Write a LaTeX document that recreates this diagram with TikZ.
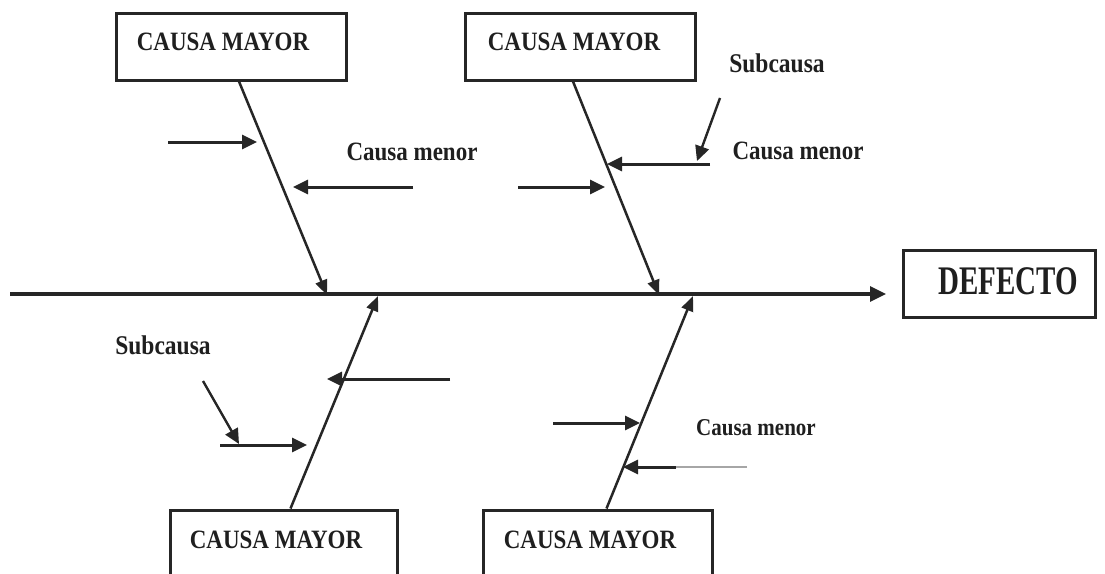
\documentclass[tikz,border=0pt]{standalone}
\usepackage{graphicx}
\usepackage{fontspec}
\setmainfont{Liberation Serif}
\usetikzlibrary{arrows.meta}
% slightly tall lettering
\newcommand{\tallbf}[2][1.15]{\scalebox{1}[#1]{#2}}
\begin{document}
\begin{tikzpicture}[x=1pt,y=-1pt,
  majorbox/.style={draw=black!85, line width=3pt, minimum width=230pt, minimum height=67pt, inner sep=0pt},
  lbl/.style={text=black!88, inner sep=0pt, font=\bfseries\fontsize{23}{23}\selectfont},
  spine/.style={draw=black!85, line width=3.2pt, -{Triangle[length=16pt,width=15pt]}},
  bone/.style={draw=black!85, line width=2.5pt, -{Triangle[length=15pt,width=12pt]}},
  twig/.style={draw=black!85, line width=3pt, -{Triangle[length=15pt,width=14pt]}}
]
\useasboundingbox (0,0) rectangle (1105,573);
\clip (0,0) rectangle (1105,573);
\fill[white] (0,0) rectangle (1105,573);

% major cause boxes
\node[majorbox] (box1) at (231,46.5) {};
\node[majorbox] (box2) at (580,46.5) {};
\node[majorbox, minimum width=227pt, minimum height=80pt] (box3) at (283.5,550) {};
\node[majorbox, minimum width=229pt, minimum height=80pt] (box4) at (597.5,550) {};
\node[majorbox, minimum width=192pt] (defect) at (999,283.5) {};

\node[lbl] (t1) at (223,42) {\tallbf{CAUSA MAYOR}};
\node[lbl] (t2) at (574,42) {\tallbf{CAUSA MAYOR}};
\node[lbl] (t3) at (276,540) {\tallbf{CAUSA MAYOR}};
\node[lbl] (t4) at (590,540) {\tallbf{CAUSA MAYOR}};
\node[lbl, font=\bfseries\fontsize{29}{29}\selectfont] (tdef) at (1008,281.5) {\tallbf[1.4]{DEFECTO}};

% labels of minor causes and subcauses
\node[lbl] (menor1) at (412,152) {\tallbf{Causa menor}};
\node[lbl] (menor2) at (798,151) {\tallbf{Causa menor}};
\node[lbl, font=\bfseries\fontsize{21}{21}\selectfont] (menor3) at (756,428) {\tallbf{Causa menor}};
\node[lbl, font=\bfseries\fontsize{23.5}{23.5}\selectfont] (sub1) at (777,63) {\tallbf{Subcausa}};
\node[lbl, font=\bfseries\fontsize{23.5}{23.5}\selectfont] (sub2) at (163,345) {\tallbf{Subcausa}};

% main spine
\coordinate (tail) at (10,294);
\coordinate (head) at (886,294);
\draw[spine] (tail) -- (head);

% major bones
\coordinate (j1) at (327,295);
\coordinate (j2) at (659,295);
\coordinate (j3) at (378,296);
\coordinate (j4) at (693,296);
\draw[bone] ([xshift=8pt]box1.south) -- (j1);
\draw[bone] ([xshift=-7pt]box2.south) -- (j2);
\draw[bone] ([xshift=7pt]box3.north) -- (j3);
\draw[bone] ([xshift=9pt]box4.north) -- (j4);

% minor causes, upper left bone
\coordinate (a1s) at (168,142); \coordinate (a1e) at (257,142);
\coordinate (a2s) at (413,187); \coordinate (a2e) at (293,187);
\draw[twig] (a1s) -- (a1e);
\draw[twig] (a2s) -- (a2e);

% minor causes, upper right bone
\coordinate (b1s) at (710,164); \coordinate (b1e) at (607,164);
\coordinate (b2s) at (518,187); \coordinate (b2e) at (605,187);
\coordinate (b3s) at (720,98);  \coordinate (b3e) at (697,161);
\draw[twig] (b1s) -- (b1e);
\draw[twig] (b2s) -- (b2e);
\draw[twig, line width=2.4pt] (b3s) -- (b3e);

% minor causes, lower left bone
\coordinate (c1s) at (450,379); \coordinate (c1e) at (327,379);
\coordinate (c2s) at (220,445); \coordinate (c2e) at (307,445);
\coordinate (c3s) at (203,381); \coordinate (c3e) at (239,444);
\draw[twig] (c1s) -- (c1e);
\draw[twig] (c2s) -- (c2e);
\draw[twig, line width=2.4pt] (c3s) -- (c3e);

% minor causes, lower right bone
\coordinate (d1s) at (553,423); \coordinate (d1e) at (640,423);
\coordinate (d2f) at (747,467); \coordinate (d2s) at (676,467); \coordinate (d2e) at (623,467);
\draw[twig] (d1s) -- (d1e);
\draw[black!35, line width=1.8pt] (d2f) -- (d2s);
\draw[twig] (d2s) -- (d2e);
\end{tikzpicture}
\end{document}
